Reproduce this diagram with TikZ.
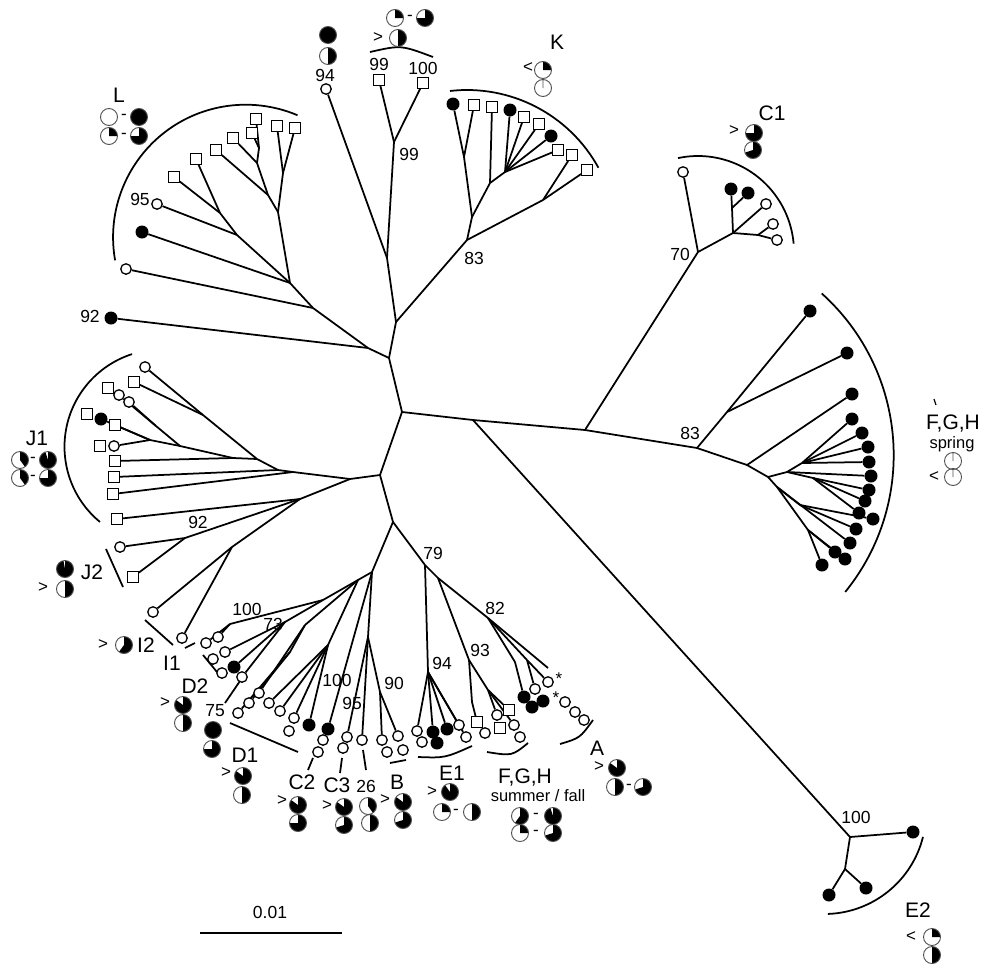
\documentclass[tikz,border=0pt]{standalone}
\usepackage{fontspec}
\setmainfont{Liberation Sans}
\definecolor{pieRim}{HTML}{505050}
\pgfdeclarelayer{paper}
\pgfdeclarelayer{branches}
\pgfsetlayers{paper,branches,main}

\begin{document}
\begin{tikzpicture}[
    x=1pt, y=-1pt,
    br/.style={line width=1.75pt},
    brk/.style={line width=1.75pt},
    leafo/.style={circle,draw,line width=1.3pt,fill=white,inner sep=0pt,minimum size=10.5pt},
    leaff/.style={circle,fill=black,inner sep=0pt,minimum size=13pt},
    leafs/.style={rectangle,draw,line width=1.3pt,fill=white,inner sep=0pt,minimum size=10.5pt},
    bsup/.style={font=\fontsize{17.5}{17.5}\selectfont,inner sep=0pt},
    clade/.style={font=\fontsize{21}{21}\selectfont,inner sep=0pt},
    season/.style={font=\fontsize{16.5}{16.5}\selectfont,inner sep=0pt},
    sign/.style={font=\fontsize{17}{17}\selectfont,inner sep=0pt},
    pics/pie/.style={code={
        \fill[black] (0,0) -- (-90:8.5) arc[start angle=-90,end angle={-90+360*#1},radius=8.5] -- cycle;
        \draw[pieRim,line width=0.9pt] (0,0) circle (8.5);}},
    pics/pieempty/.style={code={
        \draw[pieRim,line width=0.9pt] (0,0) circle (8.5);}},
    pics/pietick/.style={code={
        \draw[pieRim,line width=0.9pt] (0,0) circle (8.5) (0,0) -- (-90:8.5);}},
  ]
  \begin{pgfonlayer}{paper}
    \fill[white] (0,0) rectangle (982,964);
  \end{pgfonlayer}
  \useasboundingbox (0,0) rectangle (982,964);

  % backbone
  \coordinate (nR0) at (402,412);
  \coordinate (nR1) at (389,358);
  \coordinate (nR2) at (368,348);
  \coordinate (nR3) at (396,322);
  \coordinate (nR4) at (387,258);
  \coordinate (n99) at (394,142);
  \coordinate (nR5) at (473,420);
  \coordinate (nR6) at (585,430);
  \coordinate (nC70) at (698,252);
  \coordinate (nS83) at (697,448);
  \coordinate (nE100) at (850,837);
  \coordinate (nR7) at (380,475);
  \coordinate (nR8) at (350,479);
  \coordinate (nJR) at (293,472);
  \coordinate (nJX) at (300,499);
  \coordinate (nB0) at (393,522);
  \coordinate (nBL) at (372,572);
  \coordinate (n79) at (425,565);

  % clade L
  \coordinate (nLs) at (313,308);
  \coordinate (nLa) at (290,283);
  \coordinate (nLb) at (237,235);
  \coordinate (nLc) at (220,213);
  \coordinate (nLd) at (278,212);
  \coordinate (nLe) at (268,195);
  \coordinate (nLf) at (257,163);
  \coordinate (nLg) at (259,148);
  \coordinate (nLh) at (283,173);
  \node[leafs] (l1) at (256,119) {};
  \node[leafs] (l2) at (252,133) {};
  \node[leafs] (l3) at (277,126) {};
  \node[leafs] (l4) at (295,128) {};
  \node[leafs] (l5) at (233,138) {};
  \node[leafs] (l6) at (216,150) {};
  \node[leafs] (l7) at (196,159) {};
  \node[leafs] (l8) at (174,177) {};
  \node[leafo] (l9) at (157,204) {};
  \node[leaff] (l10) at (142,232) {};
  \node[leafo] (l11) at (126,269) {};
  \node[leaff] (l12) at (111,318) {};

  % top pair
  \node[leafo] (t94) at (326,89) {};
  \node[leafs] (t99) at (379,80) {};
  \node[leafs] (t100) at (423,83) {};

  % clade K
  \coordinate (nK83) at (467,240);
  \coordinate (nKa) at (472,217);
  \coordinate (nKb) at (464,157);
  \coordinate (nKc) at (490,183);
  \coordinate (nKd) at (505,172);
  \coordinate (nKe) at (543,200);
  \node[leaff] (k1) at (453,104) {};
  \node[leafs] (k2) at (474,105) {};
  \node[leafs] (k3) at (492,107) {};
  \node[leaff] (k4) at (510,110) {};
  \node[leafs] (k5) at (524,117) {};
  \node[leafs] (k6) at (539,124) {};
  \node[leaff] (k7) at (551,136) {};
  \node[leafs] (k8) at (558,150) {};
  \node[leafs] (k9) at (572,155) {};
  \node[leafs] (k10) at (587,170) {};

  % clade C1
  \coordinate (nCa) at (733,233);
  \coordinate (nCb) at (732,208);
  \coordinate (nCc) at (758,235);
  \node[leafo] (c1) at (683,172) {};
  \node[leaff] (c2) at (731,189) {};
  \node[leaff] (c3) at (748,193) {};
  \node[leafo] (c4) at (766,204) {};
  \node[leafo] (c5) at (773,224) {};
  \node[leafo] (c6) at (777,240) {};

  % clade F,G,H spring
  \coordinate (nFa) at (727,412);
  \coordinate (nFb) at (747,465);
  \coordinate (nFc) at (768,477);
  \coordinate (nFd) at (787,472);
  \coordinate (nFe) at (802,463);
  \coordinate (nFf) at (813,478);
  \coordinate (nFg) at (777,487);
  \coordinate (nFh) at (800,505);
  \coordinate (nFi) at (808,530);
  \node[leaff] (s1) at (810,311) {};
  \node[leaff] (s2) at (847,353) {};
  \node[leaff] (s3) at (852,394) {};
  \node[leaff] (s4) at (852,419) {};
  \node[leaff] (s5) at (862,433) {};
  \node[leaff] (s6) at (868,447) {};
  \node[leaff] (s7) at (869,462) {};
  \node[leaff] (s8) at (871,476) {};
  \node[leaff] (s9) at (869,490) {};
  \node[leaff] (s10) at (865,501) {};
  \node[leaff] (s11) at (859,513) {};
  \node[leaff] (s12) at (873,519) {};
  \node[leaff] (s13) at (856,529) {};
  \node[leaff] (s14) at (850,543) {};
  \node[leaff] (s15) at (835,552) {};
  \node[leaff] (s16) at (845,559) {};
  \node[leaff] (s17) at (822,565) {};

  % clade E2
  \coordinate (nEa) at (845,869);
  \node[leaff] (e1) at (913,832) {};
  \node[leaff] (e2) at (829,895) {};
  \node[leaff] (e3) at (866,888) {};

  % clade J1
  \coordinate (nJN2) at (278,470);
  \coordinate (nJN1) at (257,459);
  \coordinate (nJN5) at (203,415);
  \coordinate (nJN3) at (233,458);
  \coordinate (nJF2) at (180,446);
  \coordinate (nJF1) at (150,440);
  \coordinate (nJG) at (156,426);
  \node[leafo] (j1) at (145,367) {};
  \node[leafs] (j2) at (134,382) {};
  \node[leafs] (j3) at (108,388) {};
  \node[leafo] (j4) at (119,395) {};
  \node[leafo] (j5) at (129,402) {};
  \node[leafs] (j6) at (87,414) {};
  \node[leaff] (j7) at (101,419) {};
  \node[leafs] (j8) at (115,425) {};
  \node[leafs] (j9) at (100,446) {};
  \node[leafo] (j10) at (114,446) {};
  \node[leafs] (j11) at (115,461) {};
  \node[leafs] (j12) at (114,477) {};
  \node[leafs] (j13) at (113,494) {};
  \node[leafs] (j14) at (117,519) {};

  % clades J2 and I
  \coordinate (nJ2) at (185,538);
  \node[leafo] (j2a) at (120,547) {};
  \node[leafs] (j2b) at (133,577) {};
  \coordinate (nI) at (232,547);
  \node[leafo] (i1) at (153,612) {};
  \node[leafo] (i2) at (182,638) {};

  % lower left clades
  \coordinate (nBA) at (358,580);
  \coordinate (nB100) at (323,600);
  \coordinate (nBP) at (230,624);
  \coordinate (nB73) at (285,622);
  \coordinate (nBD) at (305,625);
  \coordinate (nBD1) at (290,652);
  \coordinate (nBE) at (328,645);
  \coordinate (nBM) at (368,637);
  \coordinate (nB90) at (380,692);
  \node[leafo] (p1) at (206,643) {};
  \node[leafo] (p2) at (218,637) {};
  \node[leafo] (q1) at (225,652) {};
  \node[leafo] (q2) at (213,659) {};
  \node[leaff] (q3) at (234,667) {};
  \node[leafo] (q4) at (222,673) {};
  \node[leafo] (q5) at (242,677) {};
  \node[leafo] (d1) at (238,713) {};
  \node[leafo] (d2) at (249,703) {};
  \node[leafo] (d3) at (259,693) {};
  \node[leafo] (d4) at (269,703) {};
  \node[leafo] (d5) at (280,711) {};
  \node[leafo] (d6) at (294,718) {};
  \node[leafo] (d7) at (289,731) {};
  \node[leaff] (d8) at (309,725) {};
  \node[leaff] (cc1) at (328,729) {};
  \node[leafo] (cc2) at (323,740) {};
  \node[leafo] (cc3) at (318,752) {};
  \node[leafo] (cd1) at (347,737) {};
  \node[leafo] (cd2) at (343,748) {};
  \node[leafo] (t26) at (362,740) {};
  \node[leafo] (b1) at (382,740) {};
  \node[leafo] (b2) at (398,736) {};
  \node[leafo] (b3) at (387,752) {};
  \node[leafo] (b4) at (403,750) {};

  % clades E1, F,G,H summer/fall, A
  \coordinate (n79a) at (438,578);
  \coordinate (n94) at (428,672);
  \coordinate (n93) at (469,660);
  \coordinate (n93a) at (472,702);
  \coordinate (n93b) at (488,690);
  \coordinate (n82) at (488,618);
  \coordinate (n82a) at (515,662);
  \coordinate (n82b) at (527,660);
  \coordinate (n82c) at (548,668);
  \node[leafo] (g1) at (417,731) {};
  \node[leaff] (g2) at (433,732) {};
  \node[leaff] (g3) at (447,729) {};
  \node[leafo] (g4) at (459,725) {};
  \node[leafo] (g5) at (466,737) {};
  \node[leafo] (g6) at (422,742) {};
  \node[leaff] (g7) at (437,743) {};
  \node[leafs] (f1) at (477,722) {};
  \node[leafo] (f2) at (497,715) {};
  \node[leafs] (f3) at (509,710) {};
  \node[leafo] (f4) at (514,725) {};
  \node[leafo] (f5) at (485,733) {};
  \node[leafs] (f6) at (500,728) {};
  \node[leafo] (f7) at (520,737) {};
  \node[leaff] (a1) at (524,697) {};
  \node[leafo] (a2) at (535,689) {};
  \node[leafo] (a3) at (548,682) {};
  \node[leaff] (a4) at (532,707) {};
  \node[leaff] (a5) at (543,701) {};
  \node[leafo] (a6) at (565,702) {};
  \node[leafo] (a7) at (575,712) {};
  \node[leafo] (a8) at (584,720) {};
  \node[sign] (star1) at (559,679) {*};
  \node[sign] (star2) at (556,698) {*};

  % branches
  \begin{pgfonlayer}{branches}
    \foreach \a/\b in {nR0/nR1,nR1/nR2,nR2/nLs,nR2/l12,nR1/nR3,nR3/nR4,nR4/t94,nR4/n99,
        n99/t99,n99/t100,nR3/nK83,nR0/nR5,nR5/nR6,nR6/nS83,nR6/nC70,nR5/nE100,
        nR0/nR7,nR7/nR8,nR8/nJR,nR8/nJX,nR7/nB0,nB0/nBL,nB0/n79,
        nLs/l11,nLs/nLa,nLa/l10,nLa/nLb,nLb/l9,nLb/nLc,nLc/l8,nLc/l7,nLa/nLd,nLd/nLe,
        nLe/l6,nLe/nLf,nLf/l5,nLf/nLg,nLg/l2,nLg/l1,nLd/nLh,nLh/l3,nLh/l4,
        nK83/nKa,nKa/nKb,nKb/k1,nKb/k2,nKa/nKc,nKc/k3,nKc/nKd,nKd/k4,nKd/k5,nKd/k6,
        nKd/k7,nKd/k8,nK83/nKe,nKe/k9,nKe/k10,
        nC70/c1,nC70/nCa,nCa/nCb,nCb/c2,nCb/c3,nCa/c4,nCa/nCc,nCc/c5,nCc/c6,
        nS83/nFa,nFa/s1,nFa/s2,nS83/nFb,nFb/s3,nFb/nFc,nFc/nFd,nFd/nFe,nFe/s4,nFe/s5,
        nFe/s6,nFe/s7,nFd/s8,nFd/nFf,nFf/s9,nFf/s10,nFf/s11,nFc/nFg,nFg/nFh,nFh/s12,
        nFh/s13,nFg/s14,nFg/nFi,nFi/s15,nFi/s16,nFi/s17,
        nE100/e1,nE100/nEa,nEa/e2,nEa/e3,
        nJR/nJN2,nJR/j13,nJN2/j12,nJN2/nJN1,nJN1/nJN5,nJN5/j1,nJN5/j2,nJN1/nJN3,
        nJN3/j11,nJN3/nJF2,nJF2/nJF1,nJF2/nJG,nJF1/j7,nJF1/j8,nJF1/j10,nJG/j4,nJG/j5,
        nJX/j14,nJX/nJ2,nJ2/j2a,nJ2/j2b,nJX/nI,nI/i1,nI/i2,
        nBL/nBA,nBA/nB100,nB100/nBP,nBP/p2,nBP/p1,nB100/nB73,nB73/q1,nB73/q3,nB73/q5,
        nBA/nBD,nBD/d3,nBD/nBD1,nBD1/d2,nBD1/d1,nBA/nBE,nBE/d4,nBE/d5,nBE/d6,nBE/d8,
        nBL/cc1,nBL/nBM,nBM/cd1,nBM/t26,nBM/nB90,nB90/b1,nB90/b2,
        n79/n94,n94/g1,n94/g2,n94/g3,n94/g4,n94/g5,n79/n79a,n79a/n93,n93/n93a,
        n93a/f1,n93/n93b,n93b/f2,n93b/f3,n93b/f4,n79a/n82,n82/n82a,n82a/a1,n82/n82b,
        n82b/a2,n82b/a3,n82/n82c}
      \draw[br] (\a) -- (\b);
  \end{pgfonlayer}

  % clade brackets
  \coordinate (oL) at (245.7,237.3);
  \coordinate (oK) at (467,240);
  \coordinate (oC) at (698,252);
  \coordinate (oS) at (676.2,455.1);
  \coordinate (oE) at (824.3,812.3);
  \coordinate (oJ) at (161.9,446.8);
  \draw[brk] (oL) ++(170:132.6) arc[start angle=170,end angle=293,radius=132.6];
  \draw[brk] (oK) ++(263.5:150) arc[start angle=263.5,end angle=331.2,radius=150];
  \draw[brk] (oC) ++(258:96) arc[start angle=258,end angle=355,radius=96];
  \draw[brk] (oS) ++(-48:217.5) arc[start angle=-48,end angle=39,radius=217.5];
  \draw[brk] (oE) ++(14:101.7) arc[start angle=14,end angle=88,radius=101.7];
  \draw[brk] (oJ) ++(129.5:97.4) arc[start angle=129.5,end angle=252.1,radius=97.4];
  \draw[brk] (370,52) .. controls (401,45) .. (433,57);
  \draw[brk] (418,757) .. controls (445,758) .. (472,746);
  \draw[brk] (487,752) .. controls (512,756) .. (528,743);
  \draw[brk] (560,744) .. controls (580,738) .. (593,720);
  \draw[brk] (106,549) -- (123,587);
  \draw[brk] (145,620) -- (173,645);
  \draw[brk] (185,648) -- (195,643);
  \draw[brk] (203,655) -- (217,672);
  \draw[brk] (240,681) -- (225,703);
  \draw[brk] (230,723) -- (298,752);
  \draw[brk] (313,758) -- (308,770);
  \draw[brk] (342,758) -- (340,773);
  \draw[brk] (363,750) -- (366,770);
  \draw[brk] (390,763) -- (406,760);
  \draw[line width=1.2pt] (934,399) -- (936,405);

  % support values
  \node[bsup] (v95) at (140,199) {95};
  \node[bsup] (v92a) at (90,316) {92};
  \node[bsup] (v94a) at (325,75) {94};
  \node[bsup] (v99a) at (379,64) {99};
  \node[bsup] (v100a) at (423,68) {100};
  \node[bsup] (v99b) at (409,154) {99};
  \node[bsup] (v83a) at (474,258) {83};
  \node[bsup] (v70) at (680,254) {70};
  \node[bsup] (v83b) at (690,433) {83};
  \node[bsup] (v100b) at (856,817) {100};
  \node[bsup] (v92b) at (198,522) {92};
  \node[bsup] (v100c) at (247,609) {100};
  \node[bsup] (v73) at (273,624) {73};
  \node[bsup] (v75) at (215,711) {75};
  \node[bsup] (v100d) at (337,680) {100};
  \node[bsup] (v95b) at (352,703) {95};
  \node[bsup] (v90) at (394,683) {90};
  \node[bsup] (v79) at (433,553) {79};
  \node[bsup] (v82) at (495,608) {82};
  \node[bsup] (v93) at (480,650) {93};
  \node[bsup] (v94b) at (442,663) {94};

  % clade names
  \node[clade] (labL) at (119,95) {L};
  \node[clade] (labK) at (557,42) {K};
  \node[clade] (labC1) at (772,113) {C1};
  \node[clade] (labS) at (953,424) {F,G,H};
  \node[season] (labSp) at (952,444) {spring};
  \node[clade] (labE2) at (918,910) {E2};
  \node[clade] (labJ1) at (37,438) {J1};
  \node[clade] (labJ2) at (92,572) {J2};
  \node[clade] (labI2) at (146,645) {I2};
  \node[clade] (labI1) at (172,663) {I1};
  \node[clade] (labD2) at (195,686) {D2};
  \node[clade] (labD1) at (245,755) {D1};
  \node[clade] (labC2) at (302,782) {C2};
  \node[clade] (labC3) at (337,785) {C3};
  \node[bsup] (lab26) at (366,786) {26};
  \node[clade] (labB) at (397,782) {B};
  \node[clade] (labE1) at (452,773) {E1};
  \node[clade] (labF) at (525,777) {F,G,H};
  \node[season] (labSu) at (538,796) {summer / fall};
  \node[clade] (labA) at (597,748) {A};

  % pie symbols
  \pic at (109,117) {pieempty};
  \node[sign] (mL1) at (124,117) {-};
  \pic at (139,117) {pie=1};
  \pic at (109,136) {pie=0.25};
  \node[sign] (mL2) at (124,136) {-};
  \pic at (139,136) {pie=0.75};
  \pic at (328,35) {pie=1};
  \pic at (328,56) {pie=0.5};
  \pic at (395,18) {pie=0.25};
  \node[sign] (mT1) at (410,18) {-};
  \pic at (425,18) {pie=0.75};
  \node[sign] (mT2) at (378,38) {>};
  \pic at (398,38) {pie=0.5};
  \node[sign] (mK) at (528,68) {<};
  \pic at (543,70) {pie=0.25};
  \pic at (543,88) {pietick};
  \node[sign] (mC1) at (734,131) {>};
  \pic at (754,133) {pie=0.75};
  \pic at (753,150) {pie=0.7};
  \pic at (953,461) {pietick};
  \node[sign] (mS) at (934,477) {<};
  \pic at (953,477) {pietick};
  \node[sign] (mE2) at (911,937) {<};
  \pic at (932,937) {pie=0.25};
  \pic at (932,955) {pie=0.5};
  \pic at (20,460) {pie=0.4};
  \node[sign] (mJ1) at (33,460) {-};
  \pic at (48,460) {pie=0.95};
  \pic at (20,478) {pie=0.4};
  \node[sign] (mJ2) at (33,478) {-};
  \pic at (48,478) {pie=0.75};
  \pic at (65,569) {pie=0.97};
  \node[sign] (mJ3) at (43,588) {>};
  \pic at (65,589) {pie=0.5};
  \node[sign] (mI2) at (103,645) {>};
  \pic at (124,645) {pie=0.6};
  \node[sign] (mD2) at (165,703) {>};
  \pic at (183,705) {pie=0.85};
  \pic at (183,723) {pie=0.5};
  \pic at (213,730) {pie=1};
  \pic at (212,749) {pie=0.75};
  \node[sign] (mD1) at (226,773) {>};
  \pic at (243,776) {pie=0.85};
  \pic at (242,795) {pie=0.5};
  \node[sign] (mC2) at (282,801) {>};
  \pic at (298,805) {pie=0.85};
  \pic at (298,823) {pie=0.75};
  \node[sign] (mC3) at (327,806) {>};
  \pic at (344,807) {pie=0.85};
  \pic at (344,825) {pie=0.7};
  \pic at (368,806) {pie=0.4};
  \pic at (370,823) {pie=0.5};
  \node[sign] (mB) at (385,800) {>};
  \pic at (403,802) {pie=0.85};
  \pic at (403,820) {pie=0.7};
  \node[sign] (mE1) at (432,792) {>};
  \pic at (450,792) {pie=0.9};
  \pic at (442,812) {pie=0.25};
  \node[sign] (mE1b) at (456,812) {-};
  \pic at (472,812) {pie=0.5};
  \pic at (520,816) {pie=0.6};
  \node[sign] (mF1) at (536,816) {-};
  \pic at (553,816) {pie=0.95};
  \pic at (520,833) {pie=0.25};
  \node[sign] (mF2) at (536,833) {-};
  \pic at (553,833) {pie=0.7};
  \node[sign] (mA) at (599,767) {>};
  \pic at (617,768) {pie=0.85};
  \pic at (615,787) {pie=0.5};
  \node[sign] (mA2) at (629,787) {-};
  \pic at (643,787) {pie=0.7};

  % scale bar
  \coordinate (sb1) at (200,933);
  \coordinate (sb2) at (342,933);
  \draw[br] (sb1) -- (sb2);
  \node[bsup] (sbl) at (270,912) {0.01};
\end{tikzpicture}
\end{document}
